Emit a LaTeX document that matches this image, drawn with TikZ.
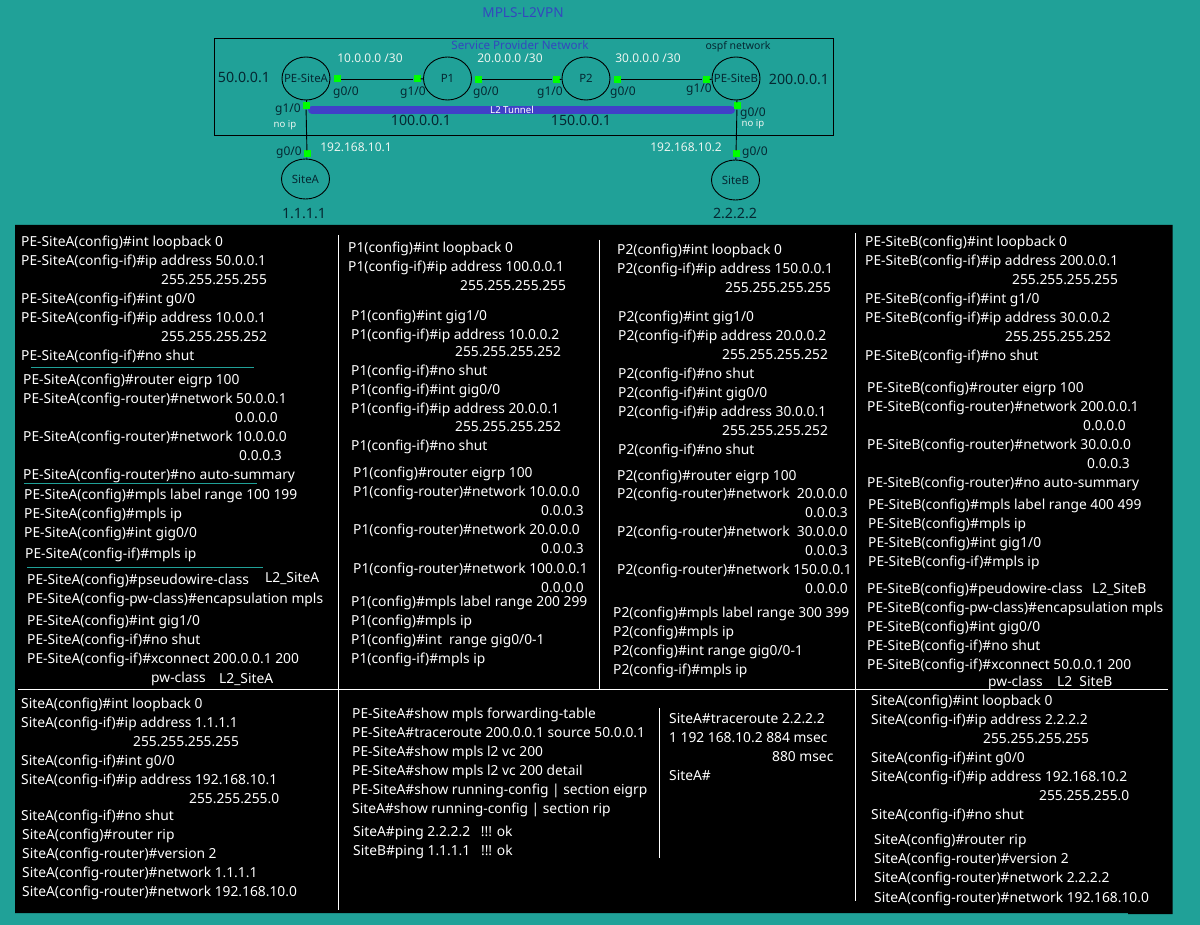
\documentclass[tikz,border=0pt]{standalone}
\usepackage{fontspec}
\setmainfont{Noto Sans}
\newcounter{tc}
\definecolor{bgteal}{RGB}{32,161,152}
\definecolor{tunnel}{RGB}{64,64,200}
\definecolor{titleblue}{RGB}{52,72,190}
\definecolor{dev}{RGB}{0,255,0}
\definecolor{whitish}{RGB}{235,245,240}
\definecolor{darktxt}{RGB}{5,40,50}
\usetikzlibrary{shapes.geometric}
\tikzset{
  cfg/.style={anchor=base west,inner sep=0pt,text=white,font=\fontsize{13.8}{16}\selectfont},
  lab/.style={anchor=center,inner sep=0pt,font=\fontsize{14.2}{16}\selectfont},
  small/.style={anchor=center,inner sep=0pt,font=\fontsize{12}{14}\selectfont},
  router/.style={draw=black,line width=0.9pt,ellipse,minimum width=48pt,minimum height=43pt,inner sep=0pt,font=\fontsize{11.4}{13}\selectfont,text=darktxt},
  port/.style={fill=dev,minimum size=7pt,inner sep=0pt,draw=none,rectangle},
  wire/.style={draw=black,line width=0.9pt},
  sep/.style={draw=white,line width=0.9pt},
  thin/.style={draw=bgteal,line width=0.7pt}
}
\newcommand{\C}[3]{\stepcounter{tc}\node[cfg] (t\arabic{tc}) at (#1,#2+5.5) {#3};}
\newcommand{\R}[1]{\makebox[0pt]{#1}}
\begin{document}
\begin{tikzpicture}[x=1pt,y=-1pt]
\fill[bgteal] (0,0) rectangle (1200,925);
\useasboundingbox (0,0) rectangle (1200,925);
\fill[black] (15,225) -- (1172.5,225) -- (1172.5,914) -- (1128,914) -- (1128,913) -- (15,913) -- cycle;
% title
\node[lab,text=titleblue,font=\fontsize{13.6}{16}\selectfont] (title) at (523,13) {MPLS-L2VPN};
\draw[black,line width=0.9pt] (214.5,38.5) rectangle (833.5,135.5);
\node[small,text=titleblue,font=\fontsize{11.6}{14}\selectfont] (spn) at (520,45) {Service Provider Network};
\node[small,text=darktxt,font=\fontsize{10.5}{12}\selectfont] (ospf) at (738,47) {ospf network};
% routers
\node[router] (pea) at (306,78.5) {\R{PE-SiteA}};
\node[router] (p1) at (447.5,78.5) {\R{P1}};
\node[router] (p2) at (586,78.5) {\R{P2}};
\node[router] (peb) at (736,78.5) {\R{PE-SiteB}};
\node[router,minimum height=40pt] (sa) at (305.5,179) {\R{SiteA}};
\node[router,minimum height=40pt] (sb) at (735.5,180) {\R{SiteB}};
% tunnel
\draw[tunnel,line width=8pt,line cap=round] (312,110) -- (731,110);
\node[anchor=center,inner sep=0pt,text=white,font=\fontsize{9.6}{12}\selectfont] (l2) at (512,110) {L2 Tunnel};
% ports
\node[port] (a1) at (337,79) {};
\node[port] (b1) at (417,79) {};
\node[port] (b2) at (478,79.5) {};
\node[port] (c1) at (556,79.5) {};
\node[port] (c2) at (617,79.5) {};
\node[port] (d1) at (706,79.5) {};
\node[port] (a2) at (306,106) {};
\node[port] (d2) at (737,106) {};
\node[port] (s1) at (307,154) {};
\node[port] (s2) at (736,154) {};
\draw[wire] (a1) -- (b1);
\draw[wire] (b2) -- (c1);
\draw[wire] (c2) -- (d1);
\draw[wire] (a2) -- (s1);
\draw[wire] (d2) -- (s2);
\draw[wire] (pea) -- (a2);
\draw[wire] (peb) -- (d2);
\draw[wire] (s1) -- (sa);
\draw[wire] (s2) -- (sb);
\draw[wire] (b1) -- (p1);
\draw[wire] (c1) -- (p2);
\draw[wire] (d1) -- (peb);
% labels
\node[lab,text=darktxt] (n1) at (244,77) {50.0.0.1};
\node[lab,text=darktxt] (n2) at (799,79) {200.0.0.1};
\node[lab,text=darktxt] (n3) at (421,120) {100.0.0.1};
\node[lab,text=darktxt] (n4) at (581,120) {150.0.0.1};
\node[lab,text=darktxt] (n5) at (304,214) {1.1.1.1};
\node[lab,text=darktxt] (n6) at (735,213) {2.2.2.2};
\node[small,text=whitish] (w1) at (370,58) {10.0.0.0 /30};
\node[small,text=whitish] (w2) at (510,58) {20.0.0.0 /30};
\node[small,text=whitish] (w3) at (648,58) {30.0.0.0 /30};
\node[small,text=whitish] (w4) at (356,147) {192.168.10.1};
\node[small,text=whitish] (w5) at (686,147) {192.168.10.2};
\node[small,text=darktxt] (g1) at (346,93) {g0/0};
\node[small,text=darktxt] (g2) at (413,93) {g1/0};
\node[small,text=darktxt] (g3) at (486,93) {g0/0};
\node[small,text=darktxt] (g4) at (550,93) {g1/0};
\node[small,text=darktxt] (g5) at (623,93) {g0/0};
\node[small,text=darktxt] (g6) at (699,90) {g1/0};
\node[small,text=darktxt] (g7) at (288,110) {g1/0};
\node[small,text=darktxt] (g8) at (753,114) {g0/0};
\node[small,text=darktxt] (g9) at (289,153) {g0/0};
\node[small,text=darktxt] (g10) at (755,153) {g0/0};
\node[anchor=center,inner sep=0pt,text=whitish,font=\fontsize{9.6}{11}\selectfont] (ni1) at (285,125) {no ip};
\node[anchor=center,inner sep=0pt,text=whitish,font=\fontsize{9.6}{11}\selectfont] (ni2) at (753,124) {no ip};
% separators
\coordinate (v1t) at (338.3,235); \coordinate (v1b) at (338.3,910);
\coordinate (v2t) at (599.5,240); \coordinate (v2b) at (599.5,689);
\coordinate (v3t) at (855.7,233); \coordinate (v3b) at (855.7,901);
\coordinate (ht1) at (18,689); \coordinate (ht2) at (1168,689);
\coordinate (v4t) at (659.3,708); \coordinate (v4b) at (659.3,858);
\draw[sep] (v1t) -- (v1b);
\draw[sep] (v2t) -- (v2b);
\draw[sep] (v3t) -- (v3b);
\draw[sep] (ht1) -- (ht2);
\draw[sep] (v4t) -- (v4b);
\coordinate (h1a) at (31,367); \coordinate (h1b) at (254,367);
\coordinate (h2a) at (24,483.5); \coordinate (h2b) at (257,483.5);
\coordinate (h3a) at (27,567.5); \coordinate (h3b) at (263,567.5);
\draw[thin] (h1a) -- (h1b);
\draw[thin] (h2a) -- (h2b);
\draw[thin] (h3a) -- (h3b);
% column 1
\C{21}{241}{PE-SiteA(config)\#int loopback 0}
\C{21}{260}{PE-SiteA(config-if)\#ip address 50.0.0.1}
\C{161}{279}{255.255.255.255}
\C{21}{298}{PE-SiteA(config-if)\#int g0/0}
\C{21}{317}{PE-SiteA(config-if)\#ip address 10.0.0.1}
\C{161}{336}{255.255.255.252}
\C{21}{355}{PE-SiteA(config-if)\#no shut}
\C{23}{379}{PE-SiteA(config)\#router eigrp 100}
\C{23}{398}{PE-SiteA(config-router)\#network 50.0.0.1}
\C{235}{417}{0.0.0.0}
\C{23}{436}{PE-SiteA(config-router)\#network 10.0.0.0}
\C{239}{455}{0.0.0.3}
\C{23}{474}{PE-SiteA(config-router)\#no auto-summary}
\C{24}{494}{PE-SiteA(config)\#mpls label range 100 199}
\C{24}{513}{PE-SiteA(config)\#mpls ip}
\C{24}{532}{PE-SiteA(config)\#int gig0/0}
\C{25}{553}{PE-SiteA(config-if)\#mpls ip}
\C{27}{579}{PE-SiteA(config)\#pseudowire-class}
\C{265}{577}{L2\_SiteA}
\C{27}{598}{PE-SiteA(config-pw-class)\#encapsulation mpls}
\C{27}{620}{PE-SiteA(config)\#int gig1/0}
\C{27}{639}{PE-SiteA(config-if)\#no shut}
\C{27}{658}{PE-SiteA(config-if)\#xconnect 200.0.0.1 200}
\C{151}{677}{pw-class}
\C{219}{678}{L2\_SiteA}
% column 2
\C{348}{247}{P1(config)\#int loopback 0}
\C{348}{266}{P1(config-if)\#ip address 100.0.0.1}
\C{460}{285}{255.255.255.255}
\C{351}{315}{P1(config)\#int gig1/0}
\C{351}{334}{P1(config-if)\#ip address 10.0.0.2}
\C{455}{351}{255.255.255.252}
\C{351}{370}{P1(config-if)\#no shut}
\C{351}{389}{P1(config-if)\#int gig0/0}
\C{351}{408}{P1(config-if)\#ip address 20.0.0.1}
\C{455}{426}{255.255.255.252}
\C{351}{445}{P1(config-if)\#no shut}
\C{353}{472}{P1(config)\#router eigrp 100}
\C{353}{491}{P1(config-router)\#network 10.0.0.0}
\C{541}{510}{0.0.0.3}
\C{353}{529}{P1(config-router)\#network 20.0.0.0}
\C{541}{548}{0.0.0.3}
\C{353}{568}{P1(config-router)\#network 100.0.0.1}
\C{541}{587}{0.0.0.0}
\C{351}{601}{P1(config)\#mpls label range 200 299}
\C{351}{620}{P1(config)\#mpls ip}
\C{351}{639}{P1(config)\#int\ \ range gig0/0-1}
\C{351}{658}{P1(config-if)\#mpls ip}
% column 3
\C{617}{249}{P2(config)\#int loopback 0}
\C{617}{268}{P2(config-if)\#ip address 150.0.0.1}
\C{725}{287}{255.255.255.255}
\C{618}{316}{P2(config)\#int gig1/0}
\C{618}{335}{P2(config-if)\#ip address 20.0.0.2}
\C{722}{354}{255.255.255.252}
\C{618}{373}{P2(config-if)\#no shut}
\C{618}{392}{P2(config-if)\#int gig0/0}
\C{618}{411}{P2(config-if)\#ip address 30.0.0.1}
\C{722}{430}{255.255.255.252}
\C{618}{449}{P2(config-if)\#no shut}
\C{617}{475}{P2(config)\#router eigrp 100}
\C{617}{493}{P2(config-router)\#network\ \ 20.0.0.0}
\C{805}{512}{0.0.0.3}
\C{617}{531}{P2(config-router)\#network\ \ 30.0.0.0}
\C{805}{550}{0.0.0.3}
\C{617}{569}{P2(config-router)\#network 150.0.0.1}
\C{805}{588}{0.0.0.0}
\C{613}{612}{P2(config)\#mpls label range 300 399}
\C{613}{631}{P2(config)\#mpls ip}
\C{613}{650}{P2(config)\#int range gig0/0-1}
\C{613}{669}{P2(config-if)\#mpls ip}
% column 4
\C{865}{241}{PE-SiteB(config)\#int loopback 0}
\C{865}{260}{PE-SiteB(config-if)\#ip address 200.0.0.1}
\C{1012}{279}{255.255.255.255}
\C{865}{298}{PE-SiteB(config-if)\#int g1/0}
\C{865}{317}{PE-SiteB(config-if)\#ip address 30.0.0.2}
\C{1005}{336}{255.255.255.252}
\C{865}{355}{PE-SiteB(config-if)\#no shut}
\C{867}{387}{PE-SiteB(config)\#router eigrp 100}
\C{867}{406}{PE-SiteB(config-router)\#network 200.0.0.1}
\C{1083}{425}{0.0.0.0}
\C{867}{444}{PE-SiteB(config-router)\#network 30.0.0.0}
\C{1087}{463}{0.0.0.3}
\C{867}{482}{PE-SiteB(config-router)\#no auto-summary}
\C{868}{504}{PE-SiteB(config)\#mpls label range 400 499}
\C{868}{523}{PE-SiteB(config)\#mpls ip}
\C{868}{542}{PE-SiteB(config)\#int gig1/0}
\C{868}{561}{PE-SiteB(config-if)\#mpls ip}
\C{867}{588}{PE-SiteB(config)\#peudowire-class}
\C{1092}{588}{L2\_SiteB}
\C{867}{607}{PE-SiteB(config-pw-class)\#encapsulation mpls}
\C{867}{626}{PE-SiteB(config)\#int gig0/0}
\C{867}{645}{PE-SiteB(config-if)\#no shut}
\C{867}{664}{PE-SiteB(config-if)\#xconnect 50.0.0.1 200}
\C{988}{681}{pw-class}
\C{1057}{681}{L2\ \ SiteB}
% bottom 1
\C{21}{703}{SiteA(config)\#int loopback 0}
\C{21}{722}{SiteA(config-if)\#ip address 1.1.1.1}
\C{133}{741}{255.255.255.255}
\C{21}{760}{SiteA(config-if)\#int g0/0}
\C{21}{779}{SiteA(config-if)\#ip address 192.168.10.1}
\C{189}{798}{255.255.255.0}
\C{21}{815}{SiteA(config-if)\#no shut}
\C{22}{834}{SiteA(config)\#router rip}
\C{22}{853}{SiteA(config-router)\#version 2}
\C{22}{872}{SiteA(config-router)\#network 1.1.1.1}
\C{22}{891}{SiteA(config-router)\#network 192.168.10.0}
% bottom 2
\C{352}{713}{PE-SiteA\#show mpls forwarding-table}
\C{352}{732}{PE-SiteA\#traceroute 200.0.0.1 source 50.0.0.1}
\C{352}{751}{PE-SiteA\#show mpls l2 vc 200}
\C{352}{770}{PE-SiteA\#show mpls l2 vc 200 detail}
\C{352}{789}{PE-SiteA\#show running-config | section eigrp}
\C{352}{808}{SiteA\#show running-config | section rip}
\C{353}{831}{SiteA\#ping 2.2.2.2\ \ \ !!! ok}
\C{353}{850}{SiteB\#ping 1.1.1.1\ \ \ !!! ok}
% bottom 3
\C{669}{718}{SiteA\#traceroute 2.2.2.2}
\C{669}{737}{1 192 168.10.2 884 msec}
\C{772}{756}{880 msec}
\C{669}{775}{SiteA\#}
% bottom 4
\C{871}{700}{SiteA(config)\#int loopback 0}
\C{871}{719}{SiteA(config-if)\#ip address 2.2.2.2}
\C{983}{738}{255.255.255.255}
\C{871}{757}{SiteA(config-if)\#int g0/0}
\C{871}{776}{SiteA(config-if)\#ip address 192.168.10.2}
\C{1039}{795}{255.255.255.0}
\C{871}{814}{SiteA(config-if)\#no shut}
\C{874}{839}{SiteA(config)\#router rip}
\C{874}{858}{SiteA(config-router)\#version 2}
\C{874}{877}{SiteA(config-router)\#network 2.2.2.2}
\C{874}{897}{SiteA(config-router)\#network 192.168.10.0}
\end{tikzpicture}
\end{document}
